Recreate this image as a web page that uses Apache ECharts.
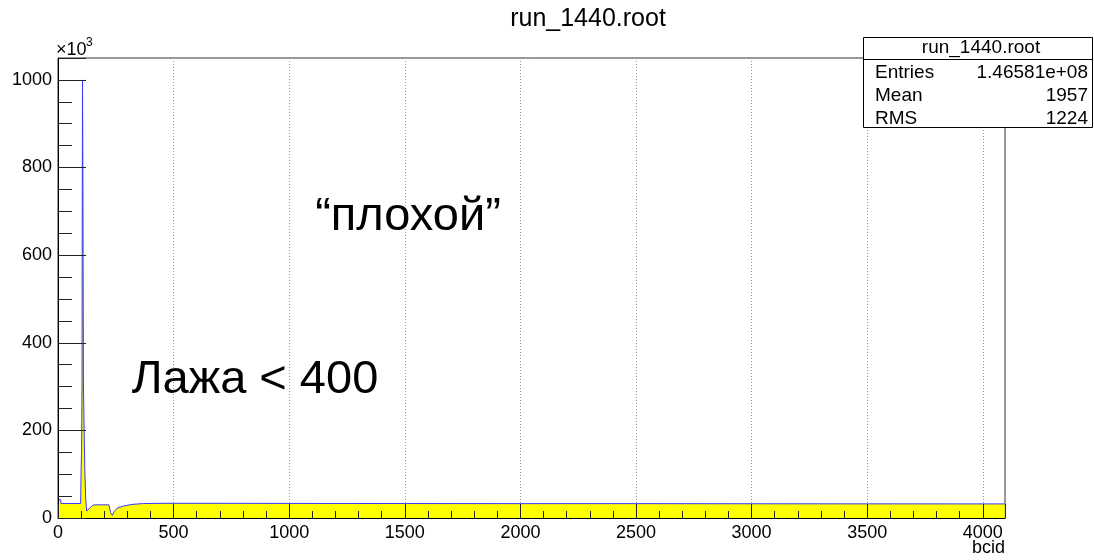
<!DOCTYPE html>
<html>
<head>
<meta charset="utf-8">
<script src="https://cdn.jsdelivr.net/npm/echarts@6/dist/echarts.min.js"></script>
<style>
html,body{margin:0;padding:0;background:#fff;}
#chart{width:1094px;height:560px;}
</style>
</head>
<body>
<div id="chart"></div>
<script>
// bcid positions and counts (x10^3)
const bcid = [0, 11, 13, 60, 98, 100, 102, 104, 105, 106, 107, 108, 110, 113, 116, 120, 124, 130, 140, 150, 160, 220, 228, 235, 242, 255, 280, 320, 370, 450, 700, 1000, 1500, 2000, 2500, 3000, 3500, 4000, 4095];
const counts = [42, 42, 33, 33, 33, 110, 150, 310, 720, 1000, 1000, 720, 310, 200, 110, 40, 16, 17, 24, 29, 30, 30, 12, 6, 14, 22, 27, 31, 33, 33.5, 33.5, 33.3, 33, 32.8, 32.8, 32.5, 32.3, 32.2, 32.2];
const yTicks = [0, 200, 400, 600, 800, 1000];
const xTicks = [0, 500, 1000, 1500, 2000, 2500, 3000, 3500, 4000];
const statsTitle = 'run_1440.root';
const statsRows = [['Entries', '1.46581e+08'], ['Mean', '1957'], ['RMS', '1224']];

const F = '"Liberation Sans", Arial, sans-serif';
const chart = echarts.init(document.getElementById('chart'));
const data = bcid.map((b, i) => [b, counts[i]]);

const graphics = [
  {type:'text', z:10, style:{text:'run_1440.root', x:588, y:19, font:'25px ' + F, fill:'#000', align:'center', verticalAlign:'middle'}},
  {type:'text', z:10, style:{text:'×10', x:56, y:50, font:'18px ' + F, fill:'#000', align:'left', verticalAlign:'middle'}},
  {type:'text', z:10, style:{text:'3', x:86, y:43, font:'12px ' + F, fill:'#000', align:'left', verticalAlign:'middle'}},
  {type:'text', z:10, style:{text:'bcid', x:1005, y:548, font:'18px ' + F, fill:'#000', align:'right', verticalAlign:'middle'}},
  {type:'text', z:10, style:{text:'“плохой”', x:408, y:217, font:'47px ' + F, fill:'#000', align:'center', verticalAlign:'middle'}},
  {type:'text', z:10, style:{text:'Лажа < 400', x:255, y:380, font:'47px ' + F, fill:'#000', align:'center', verticalAlign:'middle'}},
  {type:'rect', z:20, shape:{x:863.5, y:37.5, width:229, height:90}, style:{fill:'#fff', stroke:'#000', lineWidth:1}},
  {type:'line', z:21, shape:{x1:863.5, y1:59.5, x2:1092.5, y2:59.5}, style:{stroke:'#000', lineWidth:1}},
  {type:'text', z:22, style:{text:statsTitle, x:981, y:48, font:'19px ' + F, fill:'#000', align:'center', verticalAlign:'middle'}}
];
statsRows.forEach((r, i) => {
  const y = 73 + i * 23;
  graphics.push({type:'text', z:22, style:{text:r[0], x:875, y:y, font:'19px ' + F, fill:'#000', align:'left', verticalAlign:'middle'}});
  graphics.push({type:'text', z:22, style:{text:r[1], x:1088, y:y, font:'19px ' + F, fill:'#000', align:'right', verticalAlign:'middle'}});
});

chart.setOption({
  animation: false,
  backgroundColor: '#fff',
  grid: {left:58, right:89, top:58, bottom:42, show:true, borderColor:'#333', borderWidth:1, backgroundColor:'transparent'},
  xAxis: {
    type:'value', min:0, max:4096, interval:500, z:5,
    axisLine:{show:true, lineStyle:{color:'#000', width:1}},
    axisTick:{show:true, inside:true, length:14, lineStyle:{color:'#222', width:1}},
    minorTick:{show:true, splitNumber:5, length:7, lineStyle:{color:'#222', width:1}},
    splitLine:{show:true, lineStyle:{color:'#999', type:[1,2], width:1}},
    axisLabel:{show:true, margin:6, fontSize:18, fontFamily:F, color:'#000', showMaxLabel:false,
      formatter: v => xTicks.indexOf(v) >= 0 ? String(v) : ''}
  },
  yAxis: {
    type:'value', min:0, max:1050, interval:200, z:5,
    axisLine:{show:true, lineStyle:{color:'#000', width:1}},
    axisTick:{show:true, inside:true, length:28, lineStyle:{color:'#222', width:1}},
    minorTick:{show:true, splitNumber:4, length:14, lineStyle:{color:'#222', width:1}},
    splitLine:{show:false},
    axisLabel:{show:true, margin:6, fontSize:18, fontFamily:F, color:'#000', showMaxLabel:false,
      formatter: v => yTicks.indexOf(v) >= 0 ? String(v) : ''}
  },
  series: [{
    type:'line', data:data, showSymbol:false, z:2,
    lineStyle:{color:'#3838ff', width:1},
    areaStyle:{color:'#ffff00', opacity:1}
  }],
  graphic: graphics
});
</script>
</body>
</html>
